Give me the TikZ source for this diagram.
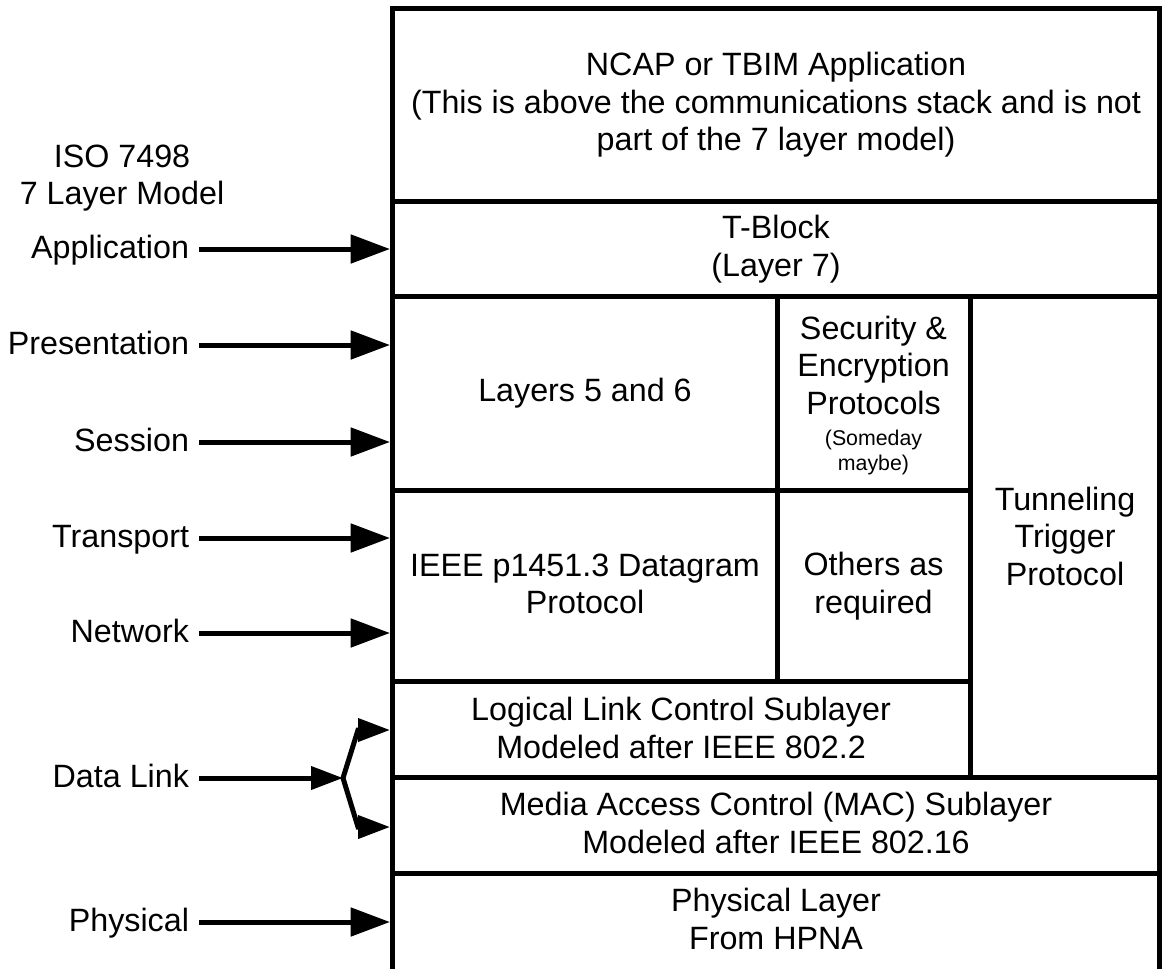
\documentclass[tikz,border=0pt]{standalone}
\usepackage{fontspec}
\setmainfont{Liberation Sans}
\usetikzlibrary{arrows.meta}
\begin{document}
\begin{tikzpicture}[x=0.75pt,y=-0.75pt,
  grid/.style={line width=3.75pt},
  txt/.style={font=\fontsize{24.2}{28.1}\selectfont, align=center, inner sep=0pt},
  small/.style={font=\fontsize{16}{18.75}\selectfont, align=center, inner sep=0pt},
  lbl/.style={font=\fontsize{24.2}{28.1}\selectfont, inner sep=0pt, outer xsep=7.5pt, anchor=base east},
  arr/.style={line width=3.75pt, -{Triangle[length=29.5pt,width=21pt]}},
  sarr/.style={line width=3.75pt, line join=miter, {Triangle[length=24pt,width=17pt]}-{Triangle[length=24pt,width=17pt]}}]
\fill[white] (0,0) rectangle (1162,968);
\useasboundingbox (0,0) rectangle (1162,968);
% frame and grid
\draw[grid] (392.5,8.5) rectangle (1159.5,971);
\draw[grid] (392.5,201) -- (1159.5,201);
\draw[grid] (392.5,296) -- (1159.5,296);
\draw[grid] (392.5,490) -- (970,490);
\draw[grid] (392.5,681) -- (970,681);
\draw[grid] (392.5,777) -- (1159.5,777);
\draw[grid] (392.5,873) -- (1159.5,873);
\draw[grid] (777,296) -- (777,681);
\draw[grid] (970,296) -- (970,777);
% box texts
\node[txt] (ncap) at (776,105) {NCAP or TBIM Application\\(This is above the communications stack and is not\\part of the 7 layer model)};
\node[txt] (tblock) at (776,249) {T-Block\\(Layer 7)};
\node[txt] (l56) at (585,393) {Layers 5 and 6};
\node[txt] (sec) at (873.5,365) {Security \&\\Encryption\\Protocols};
\node[small] (someday) at (873.5,452) {(Someday\\maybe)};
\node[txt] (tun) at (1065,536) {Tunneling\\Trigger\\Protocol};
\node[txt] (ieee) at (585,584) {IEEE p1451.3 Datagram\\Protocol};
\node[txt] (others) at (873.5,586) {Others as\\required};
\node[txt] (llc) at (681,728) {Logical Link Control Sublayer\\Modeled after IEEE 802.2};
\node[txt] (mac) at (776,823) {Media Access Control (MAC) Sublayer\\Modeled after IEEE 802.16};
\node[txt] (phy) at (776,919) {Physical Layer\\From HPNA};
% left labels
\node[txt] (iso) at (122,178) {ISO 7498\\7 Layer Model};
\node[lbl] (app) at (199,258) {Application};
\node[lbl] (pre) at (199,354) {Presentation};
\node[lbl] (ses) at (199,451) {Session};
\node[lbl] (tra) at (199,547) {Transport};
\node[lbl] (net) at (199,642) {Network};
\node[lbl] (dl) at (199,787) {Data Link};
\node[lbl] (phl) at (199,931) {Physical};
% targets
\coordinate (tapp) at (390,249);
\coordinate (tpre) at (390,345);
\coordinate (tses) at (390,442);
\coordinate (ttra) at (390,538);
\coordinate (tnet) at (390,633);
\coordinate (tllc) at (390,730);
\coordinate (tmac) at (390,827);
\coordinate (tphy) at (390,922);
\coordinate (br) at (343,778);
\coordinate (ub) at (358,730);
\coordinate (lb) at (358,827);
% arrows
\draw[arr] (app.east |- tapp) -- (tapp);
\draw[arr] (pre.east |- tpre) -- (tpre);
\draw[arr] (ses.east |- tses) -- (tses);
\draw[arr] (tra.east |- ttra) -- (ttra);
\draw[arr] (net.east |- tnet) -- (tnet);
\draw[arr] (phl.east |- tphy) -- (tphy);
\draw[line width=3.75pt, -{Triangle[length=24pt,width=17pt]}] (dl.east |- br) -- (br);
\draw[sarr] (tllc) -- (ub) -- (br) -- (lb) -- (tmac);
\end{tikzpicture}
\end{document}
